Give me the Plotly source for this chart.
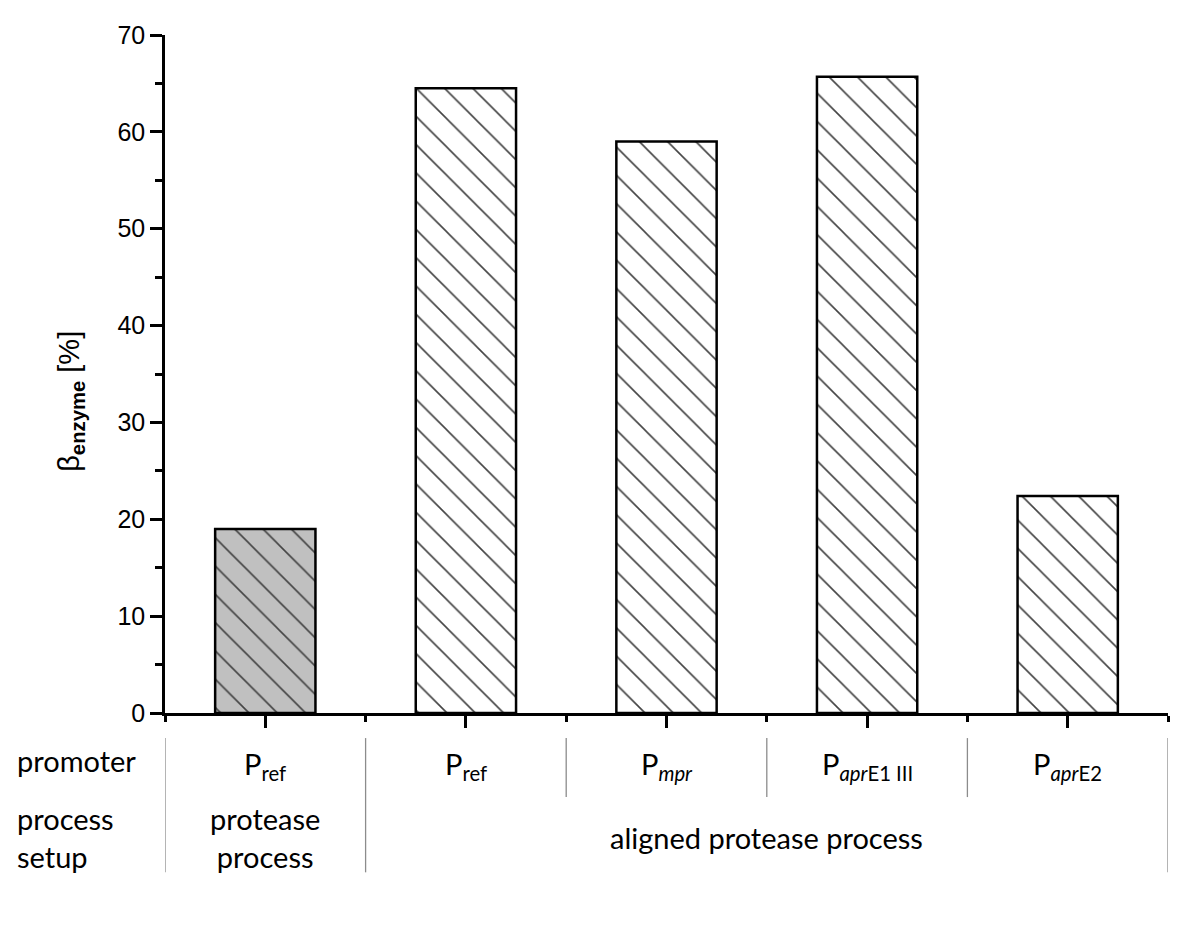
import plotly.graph_objects as go

# bar data
positions = [1, 2, 3, 4, 5]
beta_enzyme = [19.0, 64.5, 59.0, 65.7, 22.4]
bar_fill = ['#c0c0c0', 'white', 'white', 'white', 'white']

# table below the axis
promoter_labels = ['P<sub>ref</sub>', 'P<sub>ref</sub>', 'P<sub><i>mpr</i></sub>',
                   'P<sub><i>apr</i>E1 III</sub>', 'P<sub><i>apr</i>E2</sub>']
setup_labels = ['protease<br>process', 'aligned protease process']
setup_centers = [1, 3.5]
full_dividers = [0.5, 1.5, 5.5]
short_dividers = [2.5, 3.5, 4.5]

tick_font = dict(family='Liberation Sans, Arial, sans-serif', size=25, color='black')
table_font = dict(family='Lato, Carlito, sans-serif', size=29, color='black')

fig = go.Figure()
fig.add_trace(go.Bar(
    x=positions,
    y=beta_enzyme,
    width=0.5,
    marker=dict(
        color=bar_fill,
        line=dict(color='black', width=2.5),
        pattern=dict(shape='\\', size=20, solidity=0.08, fgopacity=1,
                     fgcolor='black', bgcolor=bar_fill, fillmode='overlay'),
    ),
    hoverinfo='skip',
    showlegend=False,
))

# the page offsets the plot by ~8px, so margins are trimmed to match
fig.update_layout(
    width=1200, height=928,
    plot_bgcolor='white', paper_bgcolor='white',
    margin=dict(l=157, r=40, t=27, b=223),
    xaxis=dict(
        range=[0.5, 5.5],
        showgrid=False, zeroline=False,
        showline=True, linecolor='black', linewidth=2.5,
        tickmode='array', tickvals=positions,
        ticks='outside', ticklen=12, tickwidth=2.5, tickcolor='black',
        showticklabels=False,
        minor=dict(tickmode='array', tickvals=[0.5, 1.5, 2.5, 3.5, 4.5, 5.5],
                   ticks='outside', ticklen=6, tickwidth=2.5, tickcolor='black'),
    ),
    yaxis=dict(
        range=[0, 70],
        showgrid=False, zeroline=False,
        showline=True, linecolor='black', linewidth=2.5,
        tickmode='linear', tick0=0, dtick=10,
        ticks='outside', ticklen=12, tickwidth=2.5, tickcolor='black',
        tickfont=tick_font,
        minor=dict(tickmode='linear', tick0=5, dtick=10,
                   ticks='outside', ticklen=7, tickwidth=2.5, tickcolor='black'),
    ),
)

# y axis title
fig.add_annotation(text='β<sub><b>enzyme</b></sub> [%]', textangle=-90,
                   xref='paper', yref='paper', x=-0.094, y=0.46,
                   xanchor='center', yanchor='middle',
                   showarrow=False, font=dict(family='Liberation Sans, Arial, sans-serif',
                                               size=29, color='black'))

# table dividers
for xv in full_dividers:
    fig.add_shape(type='line', xref='x', yref='paper', x0=xv, x1=xv,
                  y0=-0.037, y1=-0.235, line=dict(color='#8c8c8c', width=1.3))
for xv in short_dividers:
    fig.add_shape(type='line', xref='x', yref='paper', x0=xv, x1=xv,
                  y0=-0.037, y1=-0.124, line=dict(color='#8c8c8c', width=1.3))

# row labels
fig.add_annotation(text='promoter', xref='paper', yref='paper', x=-0.15, y=-0.07,
                   xanchor='left', yanchor='middle', showarrow=False, font=table_font)
fig.add_annotation(text='process<br>setup', xref='paper', yref='paper', x=-0.15, y=-0.183,
                   xanchor='left', yanchor='middle', align='left', showarrow=False,
                   font=table_font)

for xv, lab in zip(positions, promoter_labels):
    fig.add_annotation(text=lab, xref='x', yref='paper', x=xv, y=-0.078,
                       yanchor='middle', showarrow=False, font=table_font)
for xv, lab in zip(setup_centers, setup_labels):
    fig.add_annotation(text=lab, xref='x', yref='paper', x=xv, y=-0.183,
                       yanchor='middle', showarrow=False, font=table_font)

fig.write_html("out.html")
